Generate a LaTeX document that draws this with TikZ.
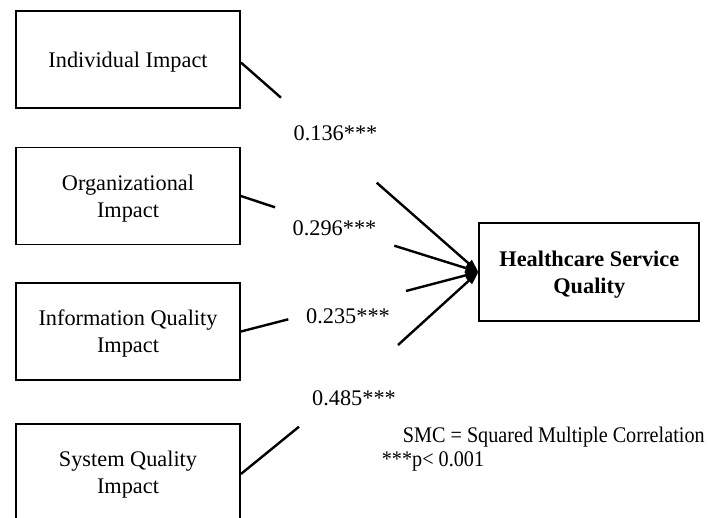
\documentclass[tikz,border=0pt]{standalone}
\usepackage{fontspec}
\setmainfont{Liberation Serif}
\newfontfamily\narrowserif[FakeStretch=0.905]{Liberation Serif}
\usetikzlibrary{arrows.meta}
\begin{document}
\begin{tikzpicture}[x=1pt,y=-1pt,
  every node/.style={font=\fontsize{22.3}{26.8}\selectfont},
  impactbox/.style={draw,line width=1.8pt,minimum width=224pt,minimum height=97pt,inner sep=0pt,align=center,text depth=0pt},
  targetbox/.style={draw,line width=1.8pt,minimum width=220pt,minimum height=97.5pt,inner sep=0pt,align=center,text depth=0pt,font=\fontsize{22.3}{26.8}\selectfont\bfseries},
  pathline/.style={line width=2.4pt},
  patharrow/.style={line width=2.4pt,-{Triangle[length=13pt,width=9pt]}},
  coef/.style={inner sep=0pt},
  notetext/.style={inner sep=0pt,anchor=west,font=\fontsize{22.3}{26.8}\narrowserif}
]
\useasboundingbox (0,0) rectangle (708,517);
\node[impactbox] (b1) at (128,59.5) {Individual Impact};
\node[impactbox] (b2) at (128,196) {Organizational\\Impact};
\node[impactbox] (b3) at (128,331.5) {Information Quality\\Impact};
\node[impactbox] (b4) at (128,472.5) {System Quality\\Impact};
\node[targetbox] (hsq) at (589.3,272) {Healthcare Service\\Quality};

\coordinate (m1) at (281,97.7);
\coordinate (n1) at (376.7,182.7);
\coordinate (m2) at (275,207.3);
\coordinate (n2) at (394.3,245.7);
\coordinate (m3) at (288.3,319.3);
\coordinate (n3) at (406,291);
\coordinate (m4) at (299,426.7);
\coordinate (n4) at (398,345);

\draw[pathline] ([yshift=-3pt]b1.east) -- (m1);
\draw[pathline] (b2.east) -- (m2);
\draw[pathline] (b3.east) -- (m3);
\draw[pathline] ([yshift=-1.5pt]b4.east) -- (m4);
\draw[patharrow] (n1) -- (hsq.west);
\draw[patharrow] (n2) -- (hsq.west);
\draw[patharrow] (n3) -- (hsq.west);
\draw[patharrow] (n4) -- (hsq.west);

\node[coef] (l1) at (335.5,133) {0.136***};
\node[coef] (l2) at (334.5,228) {0.296***};
\node[coef] (l3) at (348,316.5) {0.235***};
\node[coef] (l4) at (354,398) {0.485***};

\node[notetext] (smc) at (402.7,437) {SMC = Squared Multiple Correlation};
\node[notetext] (pval) at (381.7,461) {***p< 0.001};
\end{tikzpicture}
\end{document}
